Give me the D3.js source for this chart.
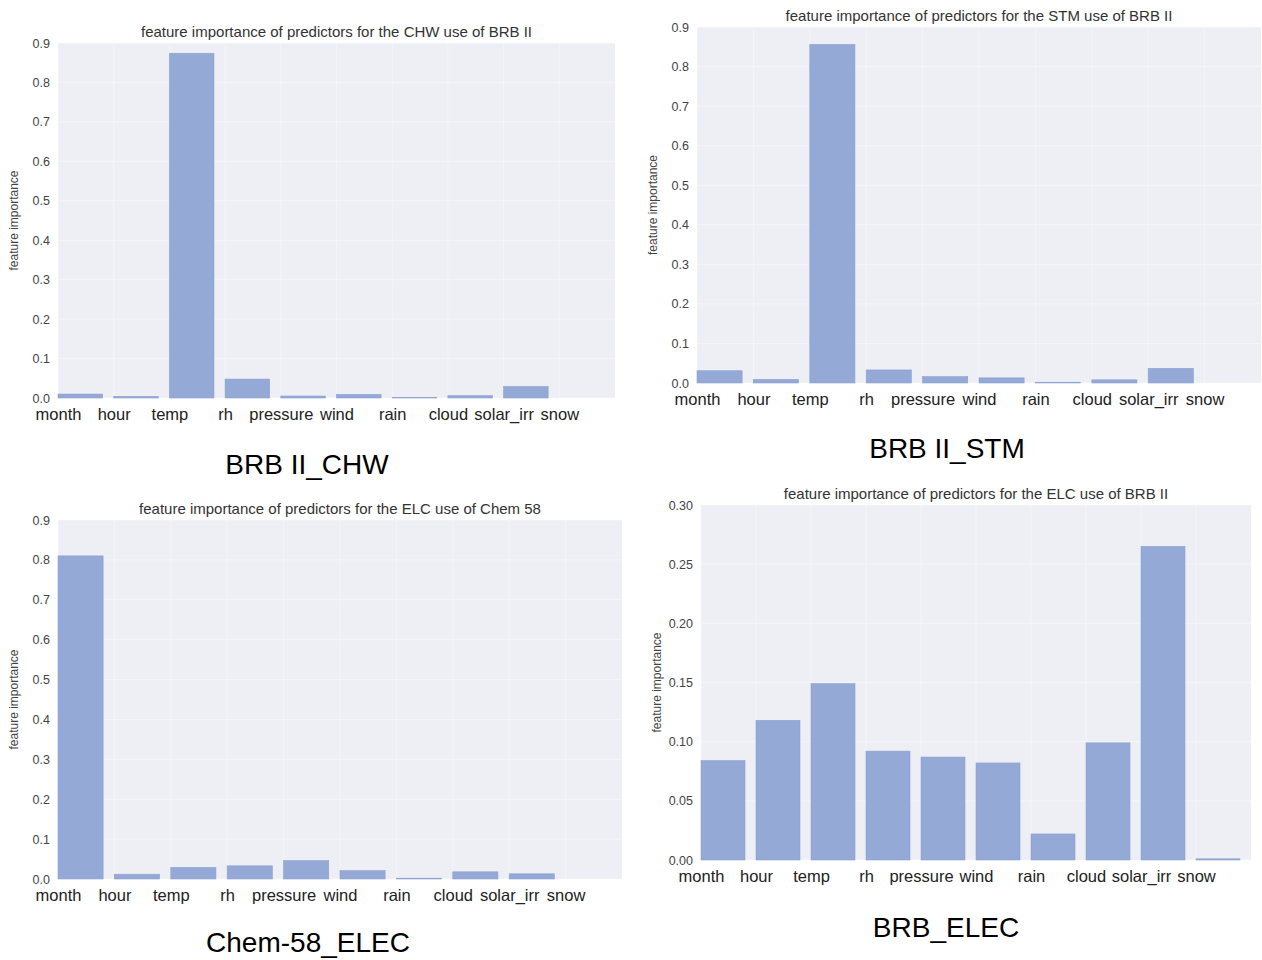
<!DOCTYPE html>
<html>
<head>
<meta charset="utf-8">
<script src="https://cdn.jsdelivr.net/npm/d3@7"></script>
<style>
  html, body { margin: 0; padding: 0; background: #ffffff; }
  svg { display: block; font-family: "Liberation Sans", Arial, sans-serif; }
</style>
</head>
<body>
<svg id="chart" width="1262" height="960"></svg>
<script>
// Predictor names shared by all four models
const features = ["month", "hour", "temp", "rh", "pressure", "wind", "rain", "cloud", "solar_irr", "snow"];

// Feature importance per model
const chwBRB  = [0.010, 0.004, 0.874, 0.048, 0.005, 0.009, 0.001, 0.006, 0.029, 0.000];
const stmBRB  = [0.031, 0.009, 0.856, 0.033, 0.016, 0.013, 0.002, 0.008, 0.037, 0.000];
const elcChem = [0.810, 0.012, 0.029, 0.033, 0.046, 0.021, 0.002, 0.018, 0.013, 0.000];
const elcBRB  = [0.084, 0.118, 0.149, 0.092, 0.087, 0.082, 0.022, 0.099, 0.265, 0.001];

// Y tick values
const ticksLarge = [0.0, 0.1, 0.2, 0.3, 0.4, 0.5, 0.6, 0.7, 0.8, 0.9];
const ticksSmall = [0.00, 0.05, 0.10, 0.15, 0.20, 0.25, 0.30];

// Titles and captions
const titles = [
  "feature importance of predictors for the CHW use of BRB II",
  "feature importance of predictors for the STM use of BRB II",
  "feature importance of predictors for the ELC use of Chem 58",
  "feature importance of predictors for the ELC use of BRB II"
];
const captions = ["BRB II_CHW", "BRB II_STM", "Chem-58_ELEC", "BRB_ELEC"];

const panels = [
  { values: chwBRB,  ticks: ticksLarge, fmt: ".1f", x0: 58,  x1: 615,  y0: 398, y1: 43,  cap: [307, 474] },
  { values: stmBRB,  ticks: ticksLarge, fmt: ".1f", x0: 697, x1: 1261, y0: 383, y1: 27,  cap: [947, 458] },
  { values: elcChem, ticks: ticksLarge, fmt: ".1f", x0: 58,  x1: 622,  y0: 879, y1: 520, cap: [308, 952] },
  { values: elcBRB,  ticks: ticksSmall, fmt: ".2f", x0: 701, x1: 1251, y0: 860, y1: 505, cap: [946, 937] }
];

const svg = d3.select("#chart");
const barColor = "#94a9d6";
const bgColor = "#eeeef5";

panels.forEach((p, k) => {
  const g = svg.append("g");
  const yMax = p.ticks[p.ticks.length - 1];

  // bars start at each tick (edge-aligned), width 0.8 of a unit
  const x = d3.scaleLinear().domain([0, features.length]).range([p.x0, p.x1]);
  const y = d3.scaleLinear().domain([0, yMax]).range([p.y0, p.y1]);

  // plot background
  g.append("rect")
    .attr("x", p.x0).attr("y", p.y1)
    .attr("width", p.x1 - p.x0).attr("height", p.y0 - p.y1)
    .attr("fill", bgColor);

  // faint white grid
  g.append("g").selectAll("line.h").data(p.ticks).join("line")
    .attr("x1", p.x0).attr("x2", p.x1)
    .attr("y1", d => y(d)).attr("y2", d => y(d))
    .attr("stroke", "#ffffff").attr("stroke-opacity", 0.4).attr("stroke-width", 1);
  g.append("g").selectAll("line.v").data(d3.range(features.length)).join("line")
    .attr("x1", d => x(d)).attr("x2", d => x(d))
    .attr("y1", p.y0).attr("y2", p.y1)
    .attr("stroke", "#ffffff").attr("stroke-opacity", 0.35).attr("stroke-width", 1);

  // bars
  g.append("g").selectAll("rect").data(p.values).join("rect")
    .attr("x", (d, i) => x(i))
    .attr("width", x(0.8) - x(0))
    .attr("y", d => y(d))
    .attr("height", d => Math.max(0, y(0) - y(d)))
    .attr("fill", barColor)
    .attr("stroke", "#8ba1d0").attr("stroke-width", 0.6);

  // y axis
  const yAxis = d3.axisLeft(y).tickValues(p.ticks).tickFormat(d3.format(p.fmt)).tickSize(0).tickPadding(8);
  const ya = g.append("g").attr("transform", `translate(${p.x0},0)`).call(yAxis);
  ya.select(".domain").remove();
  ya.selectAll("text").attr("font-size", 12.5).attr("fill", "#444").attr("font-family", "Liberation Sans, Arial, sans-serif");

  // x axis: labels sit at the left edge of each bar
  const xAxis = d3.axisBottom(x).tickValues(d3.range(features.length))
    .tickFormat(i => features[i]).tickSize(0).tickPadding(10);
  const xa = g.append("g").attr("transform", `translate(0,${p.y0})`).call(xAxis);
  xa.select(".domain").remove();
  xa.selectAll("text").attr("font-size", 16.5).attr("fill", "#222").attr("font-family", "Liberation Sans, Arial, sans-serif");

  // y label
  g.append("text")
    .attr("transform", `translate(${p.x0 - 40},${(p.y0 + p.y1) / 2}) rotate(-90)`)
    .attr("text-anchor", "middle")
    .attr("font-size", 12).attr("fill", "#444")
    .text("feature importance");

  // title
  g.append("text")
    .attr("x", (p.x0 + p.x1) / 2).attr("y", p.y1 - 6)
    .attr("text-anchor", "middle")
    .attr("font-size", 15).attr("fill", "#333")
    .text(titles[k]);

  // caption below the panel
  svg.append("text")
    .attr("x", p.cap[0]).attr("y", p.cap[1])
    .attr("text-anchor", "middle")
    .attr("font-size", 28).attr("fill", "#000")
    .text(captions[k]);
});
</script>
</body>
</html>
